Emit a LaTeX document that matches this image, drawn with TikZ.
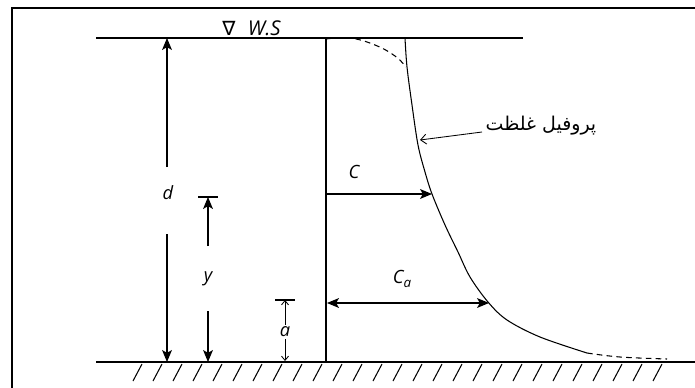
\documentclass[tikz,border=0pt]{standalone}
\usepackage{fontspec}
\newfontfamily\latinfont{Open Sans}
\newfontfamily\symfont{DejaVu Sans}
\newfontfamily\arabicfont[Script=Arabic]{DejaVu Sans}
\TeXXeTstate=1
\usetikzlibrary{arrows.meta, positioning, calc}

\begin{document}
\begin{tikzpicture}[x=0.025cm, y=-0.025cm, line width=0.75pt,
  lbl/.style={font=\latinfont\itshape\fontsize{13}{15}\selectfont, inner sep=1pt},
  dimarrow/.style={-{Stealth[length=8.5pt, width=7pt, inset=2pt]}},
  dimarrows/.style={{Stealth[length=8.5pt, width=7pt, inset=2pt]}-{Stealth[length=8.5pt, width=7pt, inset=2pt]}},
  smallarrow/.style={-{Straight Barb[length=3pt, width=5pt]}, line width=0.6pt},
  bar/.style={line width=0.75pt}]
  \useasboundingbox (0,0) rectangle (695,387);
  % frame
  \draw[line width=1.4pt] (12,400) -- (12,8) -- (710,8);

  % water surface, bed and wall
  \coordinate (ws-l) at (96,38);
  \coordinate (ws-r) at (523,38);
  \coordinate (bed-l) at (96,362);
  \coordinate (bed-r) at (695,362);
  \coordinate (wall-t) at (326,38);
  \coordinate (wall-b) at (326,362);
  \draw (ws-l) -- (ws-r);
  \draw (bed-l) -- (bed-r);
  \draw (wall-t) -- (wall-b);
  \foreach \x in {133,153,...,653}
    \draw (\x,381) -- ++(9,-17);
  \node[font=\symfont\fontsize{14}{16}\selectfont, inner sep=0pt] (nabla) at (229,28) {∇};
  \node[lbl, font=\latinfont\itshape\fontsize{14.5}{16}\selectfont, right=7pt of nabla] (ws) {W.S};

  % concentration profile
  \draw plot[smooth, tension=0.55] coordinates {(405,38) (407,67) (412,105) (418,145)
    (425,172) (432,194) (445,225) (458,252) (470,277) (488,302) (507,320) (540,337) (587,353)};
  \draw[dashed, dash pattern=on 4pt off 3pt] plot[smooth, tension=0.7] coordinates
    {(326,39) (350,38) (375,45) (395,56) (406,67)};
  \draw[dashed, dash pattern=on 4pt off 3pt] plot[smooth, tension=0.6] coordinates
    {(587,353) (620,357) (667,359)};

  % label of the profile
  \node[font=\arabicfont\fontsize{13.5}{16}\selectfont, inner sep=1pt] (prof) at (541,126)
    {\beginR پروفیل غلظت\endR};
  \coordinate (prof-tip) at (420,140);
  \draw[-{Straight Barb[length=4pt, width=7pt]}, line width=0.6pt] (482,132) -- (prof-tip);

  % depth d
  \node[lbl] (d) at (168,193) {d};
  \coordinate (d-t) at (167,38);
  \coordinate (d-b) at (167,362);
  \draw[dimarrow] (167,167) -- (d-t);
  \draw[dimarrow] (167,234) -- (d-b);

  % height y
  \coordinate (y-t) at (208,197);
  \coordinate (y-b) at (208,362);
  \draw[bar] ($(y-t)+(-10,0)$) -- ($(y-t)+(10,0)$);
  \node[lbl] (y) at (208,279) {y};
  \draw[dimarrow] (208,246) -- (y-t);
  \draw[dimarrow] (208,311) -- (y-b);

  % reference level a
  \coordinate (a-t) at (285,300);
  \coordinate (a-b) at (285,361);
  \draw[bar] ($(a-t)+(-10,0)$) -- ($(a-t)+(10,0)$);
  \node[lbl] (a) at (285,332) {a};
  \draw[smallarrow] (a.north) -- (a-t);
  \draw[smallarrow] (a.south) -- (a-b);

  % concentrations
  \coordinate (c-l) at (326,194);
  \coordinate (c-r) at (432,194);
  \draw[dimarrow] (c-l) -- (c-r);
  \node[lbl] (c) at (354,172) {C};
  \coordinate (ca-l) at (327,303);
  \coordinate (ca-r) at (489,303);
  \draw[dimarrows] (ca-l) -- (ca-r);
  \node[lbl] (ca) at (402,279) {C\raisebox{-0.35ex}{\fontsize{9.5}{10}\selectfont a}};
\end{tikzpicture}
\end{document}
